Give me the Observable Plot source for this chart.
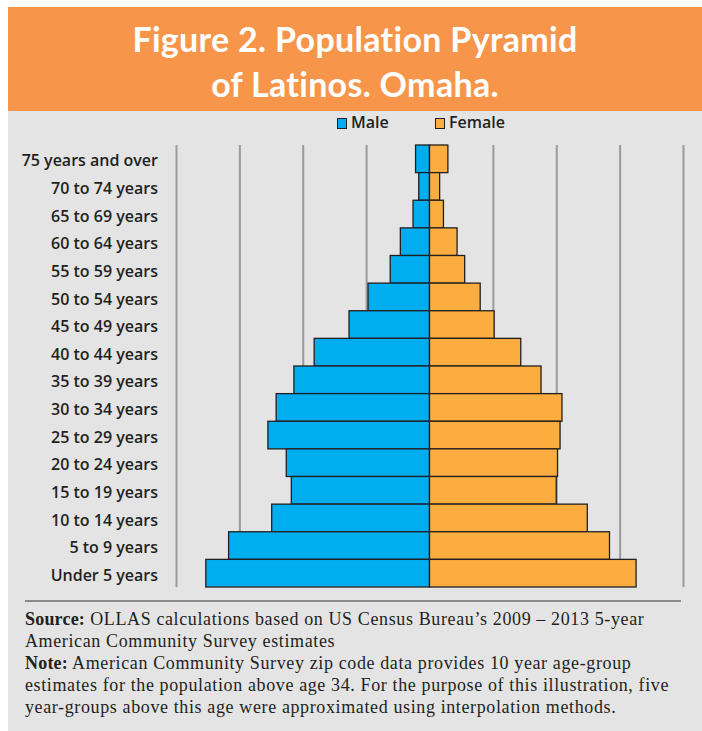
<!DOCTYPE html>
<html>
<head>
<meta charset="utf-8">
<script src="https://cdn.jsdelivr.net/npm/d3@7"></script>
<script src="https://cdn.jsdelivr.net/npm/@observablehq/plot@0.6"></script>
<style>
  html, body { margin: 0; padding: 0; background: #ffffff; }
  body { width: 702px; height: 731px; position: relative; overflow: hidden; }
  #banner { position: absolute; left: 8px; top: 7px; width: 694px; height: 104px; background: #F7964A;
    color: #ffffff; font-family: Lato, sans-serif; font-weight: 700; font-size: 34px; letter-spacing: 0.3px; text-align: center; line-height: 45px; }
  #banner .t { padding-top: 9px; }
  #panel { position: absolute; left: 8px; top: 111px; width: 694px; height: 620px; background: #E4E4E4; }
  #legend { position: absolute; top: 111px; left: 0; width: 702px; font-family: "Open Sans", sans-serif; font-weight: 600;
    font-size: 16px; color: #231f20; }
  .item { position: absolute; top: 0; line-height: 22px; white-space: nowrap; }
  .sw { display: inline-block; width: 8px; height: 9px; border: 1.5px solid #231f20; vertical-align: -1px; margin-right: 4px; }
  #chart { position: absolute; left: 8px; top: 140px; }
  #chart svg { display: block; }
  #sep { position: absolute; left: 25px; top: 600px; width: 656px; height: 2px; background: #8a8a8a; }
  #foot { position: absolute; left: 25px; top: 608px; font-family: "Liberation Serif", serif; font-size: 18px;
    letter-spacing: 0.62px; line-height: 22px; color: #231f20; white-space: nowrap; }
  #foot b { font-weight: 700; letter-spacing: 0.2px; }
</style>
</head>
<body>
<div id="banner"><div class="t">Figure 2. Population Pyramid<br>of Latinos. Omaha.</div></div>
<div id="panel"></div>
<div id="legend"></div>
<div id="chart"></div>
<div id="sep"></div>
<div id="foot"><b>Source:</b> OLLAS calculations based on US Census Bureau’s 2009 – 2013 5-year<br>American Community Survey estimates<br><b>Note:</b> American Community Survey zip code data provides 10 year age-group<br>estimates for the population above age 34. For the purpose of this illustration, five<br>year-groups above this age were approximated using interpolation methods.</div>
<script>
// Age groups (top to bottom as drawn)
const ageGroups = ["75 years and over", "70 to 74 years", "65 to 69 years", "60 to 64 years", "55 to 59 years",
  "50 to 54 years", "45 to 49 years", "40 to 44 years", "35 to 39 years", "30 to 34 years", "25 to 29 years",
  "20 to 24 years", "15 to 19 years", "10 to 14 years", "5 to 9 years", "Under 5 years"];
// Share of Latino population (%)
const maleValues = [0.44, 0.34, 0.52, 0.92, 1.24, 1.94, 2.54, 3.64, 4.28, 4.84, 5.10, 4.52, 4.36, 4.98, 6.34, 7.06];
const femaleValues = [0.58, 0.32, 0.44, 0.87, 1.11, 1.60, 2.04, 2.88, 3.52, 4.18, 4.12, 4.04, 4.00, 4.98, 5.68, 6.52];
const gridTicks = [-8, -6, -4, -2, 0, 2, 4, 6, 8];
const seriesNames = ["Male", "Female"];
const seriesColors = ["#00AEEF", "#FBAE3F"];

const rows = [];
ageGroups.forEach((a, i) => {
  rows.push({age: a, sex: "Male", x1: -maleValues[i], x2: 0});
  rows.push({age: a, sex: "Female", x1: 0, x2: femaleValues[i]});
});

const chart = Plot.plot({
  width: 694,
  height: 455,
  marginLeft: 168,
  marginRight: 19,
  marginTop: 5,
  marginBottom: 8,
  style: {background: "transparent", fontFamily: "'Open Sans', sans-serif"},
  x: {domain: [-8, 8], axis: null},
  y: {domain: ageGroups, padding: 0, round: false, label: null},
  color: {domain: seriesNames, range: seriesColors},
  marks: [
    Plot.ruleX(gridTicks, {stroke: "#9a9a9a", strokeWidth: 2}),
    Plot.barX(rows, {y: "age", x1: "x1", x2: "x2", fill: "sex", stroke: "#231f20", strokeWidth: 1.3}),
    Plot.axisY({tickSize: 0, tickPadding: 18.5, fontSize: 16, fontWeight: 600, fill: "#231f20", label: null, dy: 2})
  ]
});
document.getElementById("chart").appendChild(chart);

// Legend
const legend = document.getElementById("legend");
const legendX = [337, 435];
seriesNames.forEach((n, i) => {
  const d = document.createElement("div");
  d.className = "item";
  d.style.left = legendX[i] + "px";
  d.innerHTML = `<span class="sw" style="background:${seriesColors[i]}"></span>${n}`;
  legend.appendChild(d);
});
</script>
</body>
</html>
